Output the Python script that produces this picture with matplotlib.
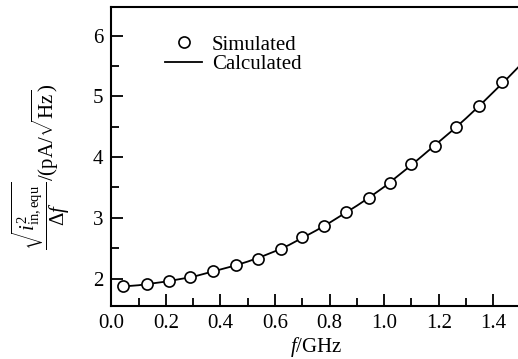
import matplotlib
matplotlib.use("Agg")
import matplotlib.pyplot as plt
from matplotlib.ticker import MultipleLocator

plt.rcParams["font.family"] = ["Liberation Serif", "DejaVu Serif"]
plt.rcParams["mathtext.fontset"] = "custom"
plt.rcParams["mathtext.rm"] = "Liberation Serif"
plt.rcParams["mathtext.it"] = "Liberation Serif:italic"

# simulated points
sim_f = [0.044, 0.132, 0.211, 0.290, 0.374, 0.458, 0.538, 0.620, 0.700,
         0.780, 0.861, 0.944, 1.020, 1.100, 1.185, 1.265, 1.349, 1.433]
sim_v = [1.87, 1.91, 1.96, 2.02, 2.12, 2.23, 2.33, 2.49, 2.68,
         2.86, 3.10, 3.33, 3.58, 3.88, 4.19, 4.50, 4.85, 5.23]

# calculated curve
calc_f = [0.044, 0.1, 0.15, 0.2, 0.25, 0.3, 0.35, 0.4, 0.45, 0.5, 0.55, 0.6,
          0.65, 0.7, 0.75, 0.8, 0.85, 0.9, 0.95, 1.0, 1.05, 1.1, 1.15, 1.2,
          1.25, 1.3, 1.35, 1.4, 1.45, 1.5]
calc_v = [1.87, 1.89, 1.92, 1.95, 1.99, 2.03, 2.09, 2.15, 2.21, 2.28, 2.36, 2.45,
          2.55, 2.67, 2.79, 2.92, 3.06, 3.20, 3.35, 3.51, 3.69, 3.87, 4.06, 4.25,
          4.44, 4.64, 4.85, 5.07, 5.29, 5.52]

fig = plt.figure(figsize=(5.18, 3.59), dpi=100)
ax = fig.add_axes([0.215, 0.148, 0.79, 0.832])

ax.plot(calc_f, calc_v, color="black", lw=1.3, label="Calculated", zorder=2)
ax.plot(sim_f, sim_v, "o", ms=8, mfc="white", mec="black", mew=1.2,
        label="Simulated", zorder=3)

ax.set_xlim(0, 1.5)
ax.set_ylim(1.55, 6.47)
ax.xaxis.set_major_locator(MultipleLocator(0.2))
ax.xaxis.set_minor_locator(MultipleLocator(0.1))
ax.yaxis.set_major_locator(MultipleLocator(1))
ax.yaxis.set_minor_locator(MultipleLocator(0.5))
ax.xaxis.set_major_formatter(plt.FormatStrFormatter("%.1f"))

ax.tick_params(which="both", direction="in", top=False, right=False,
               width=1.3, labelsize=15)
ax.tick_params(which="major", length=8.5, pad=6)
ax.tick_params(which="minor", length=5.5)
for s in ax.spines.values():
    s.set_linewidth(1.5)
ax.spines["right"].set_visible(False)

ax.set_xlabel(r"$\it{f}$/GHz", fontsize=15, labelpad=1)
ax.set_ylabel(r"$\dfrac{\sqrt{i^{2}_{\rm in,equ}}}{\Delta \it{f}}$/(pA/$\sqrt{\rm Hz}$)",
              fontsize=15)
ax.yaxis.set_label_coords(-0.097, 0.465)

h, l = ax.get_legend_handles_labels()
ax.legend(h[::-1], l[::-1], loc="upper left", bbox_to_anchor=(0.095, 0.955),
          frameon=False, fontsize=15, handlelength=1.8, handletextpad=0.45,
          labelspacing=0.0, borderpad=0.2)

fig.savefig("out.png", dpi=100)
